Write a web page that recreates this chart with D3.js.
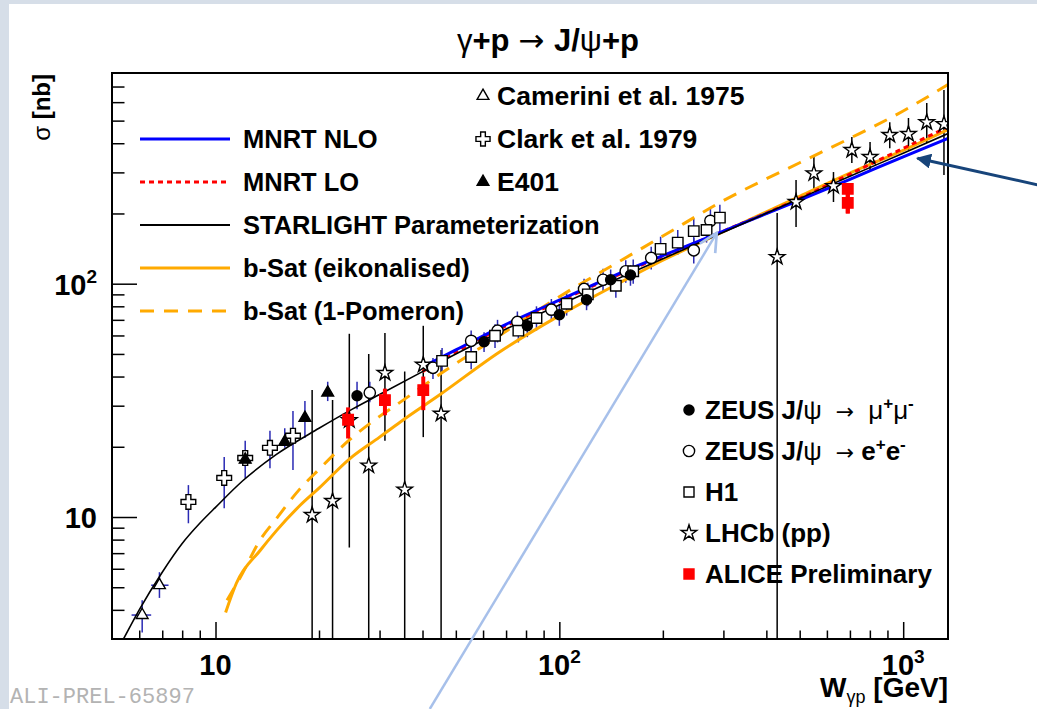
<!DOCTYPE html>
<html>
<head>
<meta charset="utf-8">
<script src="https://cdn.jsdelivr.net/npm/d3@7"></script>
<style>
body { margin: 0; background: #fff; }
svg { display: block; }
text { font-family: "Liberation Sans", Arial, sans-serif; font-weight: bold; fill: #000; }
.sym { font-family: "DejaVu Sans", sans-serif; font-weight: normal; }
</style>
</head>
<body>
<script>
// theory curves, [W (GeV), sigma (nb)]
var starlight = [[5.4,3.0],[6,4.0],[7,5.8],[8,7.7],[9,9.4],[10,11],[12,14.3],[15,18.5],[20,24],[25,29],[30,33.5],[40,42],[50,50],[70,64],[100,81],[150,106],[200,128],[300,166],[500,232],[700,289],[1000,362],[1350,440]];
var mnrtNLO = [[40,44],[50,52],[70,67],[100,85],[150,111],[200,132],[300,168],[500,228],[700,280],[1000,350],[1350,420]];
var mnrtLO = [[40,42],[50,51],[70,66],[100,84],[150,110],[200,131],[300,168],[500,232],[700,295],[1000,380],[1350,470]];
var bsatEik = [[10.7,3.9],[11.5,5.2],[13.5,7.2],[15,8.7],[17.6,11.2],[20,13.3],[24.6,17.8],[30,22],[34.4,25.5],[45,33.5],[67,51],[100,73],[150,101],[200,126],[300,167],[500,237],[700,298],[1000,373],[1350,458]];
var bsatPom = [[10.8,4.4],[11.8,5.5],[13.5,8.0],[15,9.8],[17.6,13.2],[20,16],[24.6,21.5],[30,27],[34.4,31],[45,41],[67,60],[100,88],[150,125],[200,160],[300,227],[500,330],[700,420],[1000,550],[1350,714]];

// data points
// [W, sigma, sigmaLow, sigmaHigh, Wlow, Whigh]
var camerini = [[6.12,3.8,3.2,4.4,5.7,6.5],[6.87,5.1,4.5,5.8,6.5,7.3]];
// [W, sigma, sigmaLow, sigmaHigh]
var clark = [[8.34,11.6,9.4,13.7],[10.6,14.7,10.9,18.1],[12.2,17.9,14.7,21.2],[14.4,19.8,16.2,23.4],[16.8,22.3,15.9,28.5]];
var e401 = [[12.2,17.6,16.5,19],[15.9,21,19.8,24],[18.2,26.6,21.8,31.4],[21.2,34.1,31.4,38]];
var zeusMuMu = [[25.8,33.1,29,38],[60.4,56.4,51,62],[80.7,66,59,73],[100,73.6,66,82],[120,85.3,77,94],[141,104,93,115],[161,109,98,120]];
var zeusEE = [[28.1,34.1,31,38],[42.9,43.6,39,48],[55.4,56.9,51,63],[66.1,62.9,56,70],[75.5,68.6,62,76],[94.8,77.4,69,86],[118,95,85,105],[134,104,93,116],[156,113,101,126],[185,129,115,144],[246,139,122,157],[275,186,165,210]];
var h1 = [[45.6,46.7,41,53],[55.4,48.5,43,55],[65,59.8,53,67],[76,62.9,56,71],[85.8,71.3,63,80],[105,82,73,92],[121,90,80,101],[146,98,87,110],[164,113,100,127],[197,141,125,159],[221,150,133,170],[246,168,148,190],[268,170,150,193],[293,192,168,218]];
var lhcb = [[19.1,10.2,2,35],[21.9,11.7,2,31.7],[24.5,26,7.4,61],[27.9,16.6,2,50],[31.1,41.4,21.2,61.5],[35.5,13.1,2,42],[40.2,44.9,22,66],[45.3,27.7,2,52],
            [430,130,2,201],[488,224,175,278],[550,297,252,349],[627,262,224,301],[709,374,329,425],[801,349,301,405],[914,434,381,492],[1036,438,374,513],[1171,492,401,595],[1314,483,292,677]];
var alice = [[24.3,26.1,21.7,29.5],[31.1,31.7,27.3,35.5],[40.2,35,28.7,40],[690,255,200,270],[690,222,200,270]];

var xMajor = [10, 100, 1000];
var xMajorLabels = [["10",""],["10","2"],["10","3"]];
var xMinor = [6,7,8,9,20,30,40,50,60,70,80,90,200,300,400,500,600,700,800,900];
var yMajor = [10, 100];
var yMajorLabels = [["10",""],["10","2"]];
var yMinor = [4,5,6,7,8,9,20,30,40,50,60,70,80,90,200,300,400,500,600,700];

var W = 1037, H = 709;
var plot = {left: 112, right: 948, top: 73, bottom: 639};

var svg = d3.select("body").append("svg")
    .attr("width", W)
    .attr("height", H);

// slide background and white panel
svg.append("rect").attr("width", W).attr("height", H).attr("fill", "#d6dee8");
svg.append("rect").attr("x", 9).attr("y", 4).attr("width", W - 9).attr("height", H - 4).attr("fill", "#fff");

var x = d3.scaleLog().domain([5, 1350]).range([plot.left, plot.right]);
var y = d3.scaleLog().domain([3, 800]).range([plot.bottom, plot.top]);

svg.append("clipPath").attr("id", "clip")
    .append("rect")
    .attr("x", plot.left).attr("y", plot.top)
    .attr("width", plot.right - plot.left).attr("height", plot.bottom - plot.top);

// ticks (ROOT style, inside the frame)
var xAxisMinor = d3.axisTop(x).tickValues(xMinor).tickSize(8.5).tickFormat("");
var xAxisMajor = d3.axisTop(x).tickValues(xMajor).tickSize(17).tickFormat("");
var yAxisMinor = d3.axisRight(y).tickValues(yMinor).tickSize(12.5).tickFormat("");
var yAxisMajor = d3.axisRight(y).tickValues(yMajor).tickSize(25).tickFormat("");

[xAxisMinor, xAxisMajor].forEach(function (a) {
    var g = svg.append("g").attr("transform", `translate(0, ${plot.bottom})`).call(a);
    g.select(".domain").remove();
    g.selectAll("line").attr("stroke", "#000").attr("stroke-width", 1.5);
});
[yAxisMinor, yAxisMajor].forEach(function (a) {
    var g = svg.append("g").attr("transform", `translate(${plot.left}, 0)`).call(a);
    g.select(".domain").remove();
    g.selectAll("line").attr("stroke", "#000").attr("stroke-width", 1.5);
});

// tick labels
xMajor.forEach(function (v, i) {
    var t = svg.append("text")
        .attr("x", x(v)).attr("y", 675)
        .attr("text-anchor", "middle")
        .style("font-size", "29px");
    t.append("tspan").text(xMajorLabels[i][0]);
    if (xMajorLabels[i][1]) t.append("tspan").attr("dy", -12).style("font-size", "19px").text(xMajorLabels[i][1]);
});
yMajor.forEach(function (v, i) {
    var t = svg.append("text")
        .attr("x", 97).attr("y", y(v) + 11)
        .attr("text-anchor", "end")
        .style("font-size", "29px");
    t.append("tspan").text(yMajorLabels[i][0]);
    if (yMajorLabels[i][1]) t.append("tspan").attr("dy", -12).style("font-size", "19px").text(yMajorLabels[i][1]);
});

// axis titles
var xl = svg.append("text")
    .attr("x", plot.right).attr("y", 697)
    .attr("text-anchor", "end")
    .style("font-size", "28px");
xl.append("tspan").text("W");
xl.append("tspan").attr("dy", 6).style("font-size", "18px").style("font-weight", "normal").text("γp");
xl.append("tspan").attr("dy", -6).text(" [GeV]");

var yl = svg.append("text")
    .attr("transform", "translate(50, 74) rotate(-90)")
    .attr("text-anchor", "end")
    .style("font-size", "24px");
yl.append("tspan").style("font-weight", "normal").text("σ");
yl.append("tspan").text(" [nb]");

// title
var title = svg.append("text")
    .attr("x", 548).attr("y", 51)
    .attr("text-anchor", "middle")
    .style("font-size", "31px");
title.append("tspan").style("font-weight", "normal").text("γ");
title.append("tspan").text("+p ");
title.append("tspan").attr("class", "sym").text("→ ");
title.append("tspan").text("J/");
title.append("tspan").style("font-weight", "normal").text("ψ");
title.append("tspan").text("+p");

// preliminary tag
svg.append("text")
    .attr("x", 10).attr("y", 703)
    .style("font-family", "'Liberation Mono', monospace")
    .style("font-weight", "normal")
    .style("font-size", "22px")
    .style("fill", "#b3b3b3")
    .text("ALI-PREL-65897");

var chart = svg.append("g").attr("clip-path", "url(#clip)");

var line = d3.line()
    .x(function (d) { return x(d[0]); })
    .y(function (d) { return y(d[1]); })
    .curve(d3.curveMonotoneX);

var curves = [
    {data: bsatPom, color: "#ffaa00", width: 3, dash: "14,10"},
    {data: bsatEik, color: "#ffaa00", width: 3, dash: null},
    {data: mnrtLO, color: "#ff0000", width: 3, dash: "5,4"},
    {data: mnrtNLO, color: "#0000ff", width: 3, dash: null},
    {data: starlight, color: "#000", width: 1.6, dash: null}
];

// error bars
var heraBlue = "#2a2ab4";
function vbars(data, color, w) {
    chart.selectAll(null).data(data).enter().append("line")
        .attr("x1", d => x(d[0])).attr("x2", d => x(d[0]))
        .attr("y1", d => y(d[2])).attr("y2", d => y(d[3]))
        .attr("stroke", color).attr("stroke-width", w);
}
vbars(lhcb, "#000", 1.5);
vbars(camerini, heraBlue, 1.5);
vbars(clark, heraBlue, 1.5);
vbars(e401, heraBlue, 1.5);
vbars(zeusMuMu, heraBlue, 1.5);
vbars(zeusEE, heraBlue, 1.5);
vbars(h1, heraBlue, 1.5);
chart.selectAll(null).data(camerini).enter().append("line")
    .attr("x1", d => x(d[4])).attr("x2", d => x(d[5]))
    .attr("y1", d => y(d[1])).attr("y2", d => y(d[1]))
    .attr("stroke", heraBlue).attr("stroke-width", 1.5);

curves.forEach(function (c) {
    chart.append("path")
        .datum(c.data)
        .attr("d", line)
        .attr("fill", "none")
        .attr("stroke", c.color)
        .attr("stroke-width", c.width)
        .attr("stroke-dasharray", c.dash);
});

vbars(alice, "#ff0000", 4);

// markers
function markers(data, type, size, fill, stroke) {
    chart.selectAll(null).data(data).enter().append("path")
        .attr("transform", d => `translate(${x(d[0])}, ${y(d[1])})`)
        .attr("d", d3.symbol().type(type).size(size))
        .attr("fill", fill)
        .attr("stroke", stroke)
        .attr("stroke-width", 1.4);
}
markers(lhcb, d3.symbolStar, 75, "#fff", "#000");
markers(camerini, d3.symbolTriangle, 60, "#fff", "#000");
markers(clark, d3.symbolCross, 120, "#fff", "#000");
markers(e401, d3.symbolTriangle, 60, "#000", "#000");
markers(zeusEE, d3.symbolCircle, 100, "#fff", "#000");
markers(h1, d3.symbolSquare, 110, "#fff", "#000");
markers(zeusMuMu, d3.symbolCircle, 80, "#000", "#000");
markers(alice, d3.symbolSquare, 110, "#ff0000", "#ff0000");

// legend, top left
var legLines = [
    {label: "MNRT NLO", c: curves[3]},
    {label: "MNRT LO", c: curves[2]},
    {label: "STARLIGHT Parameterization", c: curves[4]},
    {label: "b-Sat (eikonalised)", c: curves[1]},
    {label: "b-Sat (1-Pomeron)", c: curves[0]}
];
legLines.forEach(function (l, i) {
    var cy = 139 + i * 43;
    svg.append("line")
        .attr("x1", 140).attr("x2", 230).attr("y1", cy).attr("y2", cy)
        .attr("stroke", l.c.color).attr("stroke-width", l.c.width < 2 ? 2 : l.c.width)
        .attr("stroke-dasharray", l.c.dash);
    svg.append("text")
        .attr("x", 243).attr("y", cy + 9)
        .style("font-size", "25.5px")
        .text(l.label);
});

// legend marker + text
function legMarker(mx, my, type, size, fill, stroke) {
    svg.append("path")
        .attr("transform", `translate(${mx}, ${my})`)
        .attr("d", d3.symbol().type(type).size(size))
        .attr("fill", fill).attr("stroke", stroke).attr("stroke-width", 1.4);
}

var legTop = [
    {label: "Camerini et al. 1975", type: d3.symbolTriangle, size: 60, fill: "#fff", stroke: "#000"},
    {label: "Clark et al. 1979", type: d3.symbolCross, size: 110, fill: "#fff", stroke: "#000"},
    {label: "E401", type: d3.symbolTriangle, size: 60, fill: "#000", stroke: "#000"}
];
legTop.forEach(function (l, i) {
    var cy = 96 + i * 43;
    legMarker(483, cy, l.type, l.size, l.fill, l.stroke);
    svg.append("text").attr("x", 497).attr("y", cy + 9).style("font-size", "26.5px").text(l.label);
});

// parts: [text, style] with 1 bold, 0 greek/normal, 2 superscript, 3 arrow
var legBottom = [
    {parts: [["ZEUS J/", 1], ["ψ", 0], ["  →  ", 3], ["μ", 0], ["+", 2], ["μ", 0], ["-", 2]], type: d3.symbolCircle, size: 80, fill: "#000", stroke: "#000"},
    {parts: [["ZEUS J/", 1], ["ψ", 0], ["  → ", 3], ["e", 1], ["+", 2], ["e", 1], ["-", 2]], type: d3.symbolCircle, size: 100, fill: "#fff", stroke: "#000"},
    {parts: [["H1", 1]], type: d3.symbolSquare, size: 100, fill: "#fff", stroke: "#000"},
    {parts: [["LHCb (pp)", 1]], type: d3.symbolStar, size: 75, fill: "#fff", stroke: "#000"},
    {parts: [["ALICE Preliminary", 1]], type: d3.symbolSquare, size: 100, fill: "#ff0000", stroke: "#ff0000"}
];
legBottom.forEach(function (l, i) {
    var cy = 410 + i * 41;
    legMarker(689, cy, l.type, l.size, l.fill, l.stroke);
    var t = svg.append("text").attr("x", 705).attr("y", cy + 9).style("font-size", "26px")
        .attr("xml:space", "preserve");
    var raised = false;
    l.parts.forEach(function (p) {
        var ts = t.append("tspan").text(p[0]);
        if (p[1] === 0) ts.style("font-weight", "normal");
        if (p[1] === 3) ts.attr("class", "sym").style("font-size", "22px");
        if (p[1] === 2) {
            ts.attr("dy", raised ? 0 : -10).style("font-size", "17px");
            raised = true;
        } else {
            if (raised) ts.attr("dy", 10);
            raised = false;
        }
    });
});

// frame
svg.append("rect")
    .attr("x", plot.left).attr("y", plot.top)
    .attr("width", plot.right - plot.left).attr("height", plot.bottom - plot.top)
    .attr("fill", "none").attr("stroke", "#000").attr("stroke-width", 2);

// annotation arrows
var defs = svg.append("defs");
defs.append("marker").attr("id", "headDark")
    .attr("viewBox", "0 0 10 10").attr("refX", 9).attr("refY", 5)
    .attr("markerWidth", 5).attr("markerHeight", 5).attr("orient", "auto")
    .append("path").attr("d", "M0,0 L10,5 L0,10 z").attr("fill", "#17447a");
defs.append("marker").attr("id", "headLight")
    .attr("viewBox", "0 0 10 10").attr("refX", 9).attr("refY", 5)
    .attr("markerWidth", 9).attr("markerHeight", 9).attr("orient", "auto")
    .append("path").attr("d", "M1,1 L9,5 L1,9").attr("fill", "none").attr("stroke", "#a7c0ea").attr("stroke-width", 1.2);

var tipLight = [287, 165];
var tipDark = [1100, 345];
svg.append("line")
    .attr("x1", x(tipLight[0]) - 287).attr("y1", y(tipLight[1]) + 476)
    .attr("x2", x(tipLight[0])).attr("y2", y(tipLight[1]))
    .attr("stroke", "#a7c0ea").attr("stroke-width", 2.5)
    .attr("marker-end", "url(#headLight)");
svg.append("line")
    .attr("x1", x(tipDark[0]) + 122).attr("y1", y(tipDark[1]) + 27)
    .attr("x2", x(tipDark[0])).attr("y2", y(tipDark[1]))
    .attr("stroke", "#17447a").attr("stroke-width", 3)
    .attr("marker-end", "url(#headDark)");
</script>
</body>
</html>
